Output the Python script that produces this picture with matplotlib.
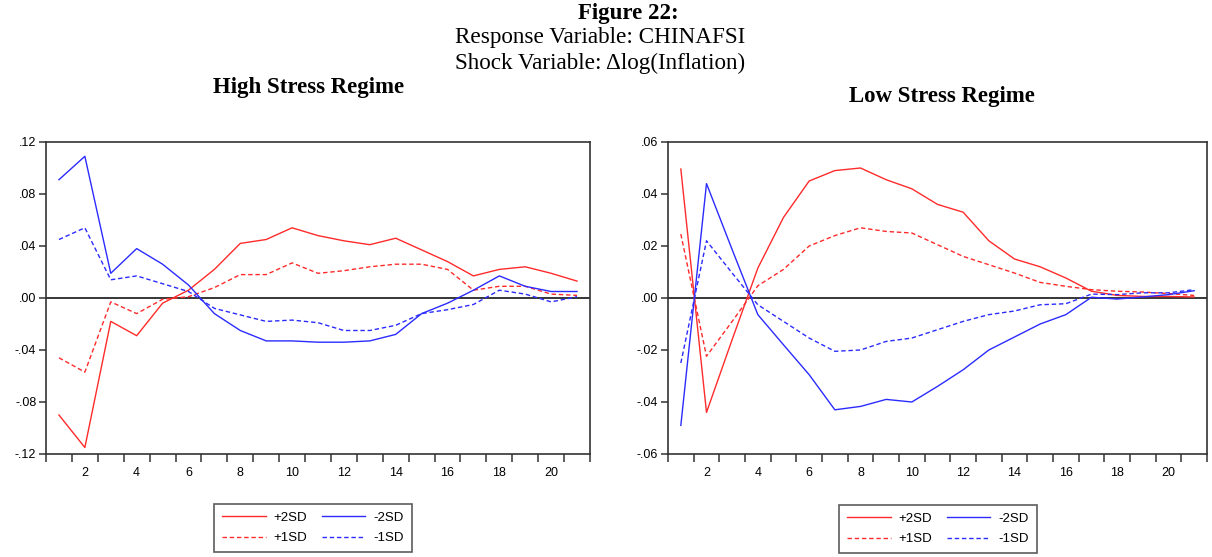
import matplotlib
matplotlib.use("Agg")
import matplotlib.pyplot as plt
import numpy as np
from matplotlib.lines import Line2D
from matplotlib.ticker import FixedLocator, FuncFormatter

# ── values ───────────────────────────────────────────────────────────────────
periods = np.arange(1, 22)

high_p2 = [-0.090, -0.115, -0.018, -0.029, -0.004, 0.006, 0.022, 0.042, 0.045, 0.054,
           0.048, 0.044, 0.041, 0.046, 0.037, 0.028, 0.017, 0.022, 0.024, 0.019, 0.013]
high_p1 = [-0.046, -0.057, -0.003, -0.012, -0.001, 0.001, 0.008, 0.018, 0.018, 0.027,
           0.019, 0.021, 0.024, 0.026, 0.026, 0.022, 0.006, 0.009, 0.009, 0.003, 0.002]
high_m2 = [0.091, 0.109, 0.019, 0.038, 0.026, 0.010, -0.012, -0.025, -0.033, -0.033,
           -0.034, -0.034, -0.033, -0.028, -0.012, -0.004, 0.006, 0.017, 0.009, 0.005, 0.005]
high_m1 = [0.045, 0.054, 0.014, 0.017, 0.011, 0.005, -0.008, -0.013, -0.018, -0.017,
           -0.019, -0.025, -0.025, -0.021, -0.012, -0.009, -0.005, 0.006, 0.003, -0.003, 0.001]

low_p2 = [0.0496, -0.044, -0.016, 0.0115, 0.031, 0.045, 0.049, 0.050, 0.0455, 0.042,
          0.036, 0.033, 0.022, 0.015, 0.012, 0.0077, 0.0026, 0.001, 0.0006, 0.0006, 0.0004]
low_p1 = [0.0246, -0.0224, -0.009, 0.0047, 0.011, 0.020, 0.024, 0.027, 0.0256, 0.025,
          0.0205, 0.016, 0.0128, 0.0096, 0.006, 0.0045, 0.0032, 0.0026, 0.0023, 0.0017, 0.001]
low_m2 = [-0.049, 0.044, 0.0186, -0.0064, -0.018, -0.0295, -0.043, -0.0417, -0.039, -0.040,
          -0.034, -0.0276, -0.020, -0.015, -0.010, -0.0064, 0.0003, -0.0004, 0.0004, 0.0013, 0.0028]
low_m1 = [-0.025, 0.022, 0.0096, -0.0026, -0.009, -0.0154, -0.0205, -0.020, -0.0167, -0.0154,
          -0.0122, -0.009, -0.0064, -0.005, -0.0026, -0.0022, 0.0015, 0.0013, 0.002, 0.002, 0.0032]

high_yticks = [-0.12, -0.08, -0.04, 0.00, 0.04, 0.08, 0.12]
low_yticks = [-0.06, -0.04, -0.02, 0.00, 0.02, 0.04, 0.06]
xtick_labels = list(range(2, 21, 2))
legend_labels = ["+2SD", "+1SD", "-2SD", "-1SD"]

RED = "#ff2b2b"
BLUE = "#2b2bff"
DASH = (0, (3.2, 2.0))
SANS = "Liberation Sans"
SERIF = "Liberation Serif"


def eviews_fmt(v, _pos=None):
    # EViews drops the leading zero: 0.04 -> .04, -0.04 -> -.04
    s = f"{v:.2f}"
    return s.replace("0.", ".", 1)


def draw_panel(ax, p2, p1, m2, m1, yticks):
    ax.plot(periods, p2, color=RED, lw=1.0)
    ax.plot(periods, p1, color=RED, lw=1.0, linestyle=DASH)
    ax.plot(periods, m2, color=BLUE, lw=1.0)
    ax.plot(periods, m1, color=BLUE, lw=1.0, linestyle=DASH)
    ax.axhline(0.0, color="black", lw=1.1, zorder=1)

    ax.set_xlim(0.5, 21.5)
    ax.set_ylim(yticks[0], yticks[-1])
    ax.yaxis.set_major_locator(FixedLocator(yticks))
    ax.yaxis.set_major_formatter(FuncFormatter(eviews_fmt))
    ax.xaxis.set_major_locator(FixedLocator(xtick_labels))
    ax.xaxis.set_minor_locator(FixedLocator(np.arange(0.5, 22.0, 1.0)))
    ax.tick_params(axis="x", which="major", length=0, pad=9.5,
                   labelsize=9, labelfontfamily=SANS)
    ax.tick_params(axis="x", which="minor", length=6, width=1.1,
                   direction="out", color="#333333")
    ax.tick_params(axis="y", which="major", length=5, width=1.1,
                   direction="out", pad=2, labelsize=9,
                   labelfontfamily=SANS, color="#333333")
    for sp in ax.spines.values():
        sp.set_linewidth(1.2)
        sp.set_color("#333333")

    handles = [Line2D([], [], color=RED, lw=1.0),
               Line2D([], [], color=RED, lw=1.0, linestyle=DASH),
               Line2D([], [], color=BLUE, lw=1.0),
               Line2D([], [], color=BLUE, lw=1.0, linestyle=DASH)]
    return handles


fig = plt.figure(figsize=(12.12, 5.57), dpi=100)

ax_hi = fig.add_axes([46 / 1212, 1 - 454 / 557, 544 / 1212, 312 / 557])
ax_lo = fig.add_axes([668 / 1212, 1 - 454 / 557, 539 / 1212, 312 / 557])

h = draw_panel(ax_hi, high_p2, high_p1, high_m2, high_m1, high_yticks)
draw_panel(ax_lo, low_p2, low_p1, low_m2, low_m1, low_yticks)

# legends below each panel
for cx, cy in [(313 / 1212, 1 - 528 / 557), (938 / 1212, 1 - 529 / 557)]:
    leg = fig.legend(h, legend_labels, loc="center", bbox_to_anchor=(cx, cy),
                     ncol=2, fancybox=False, frameon=True, handlelength=3.3,
                     columnspacing=1.1, handletextpad=0.6, borderpad=0.6,
                     labelspacing=0.6,
                     prop={"family": SANS, "size": 9.5})
    leg.get_frame().set_edgecolor("#333333")
    leg.get_frame().set_linewidth(1.2)

# titles
fig.text(628 / 1212, 1 - 13 / 557, "Figure 22:", ha="center", va="center",
         family=SERIF, fontsize=16.5, fontweight="bold")
fig.text(600 / 1212, 1 - 38 / 557, "Response Variable: CHINAFSI", ha="center",
         va="center", family=SERIF, fontsize=16.7)
fig.text(600 / 1212, 1 - 63 / 557, "Shock Variable: \u0394log(Inflation)",
         ha="center", va="center", family=SERIF, fontsize=16.7)
fig.text(309 / 1212, 1 - 87 / 557, "High Stress Regime", ha="center",
         va="center", family=SERIF, fontsize=16.5, fontweight="bold")
fig.text(942 / 1212, 1 - 96 / 557, "Low Stress Regime", ha="center",
         va="center", family=SERIF, fontsize=16.5, fontweight="bold")

fig.savefig("out.png", dpi=100)
